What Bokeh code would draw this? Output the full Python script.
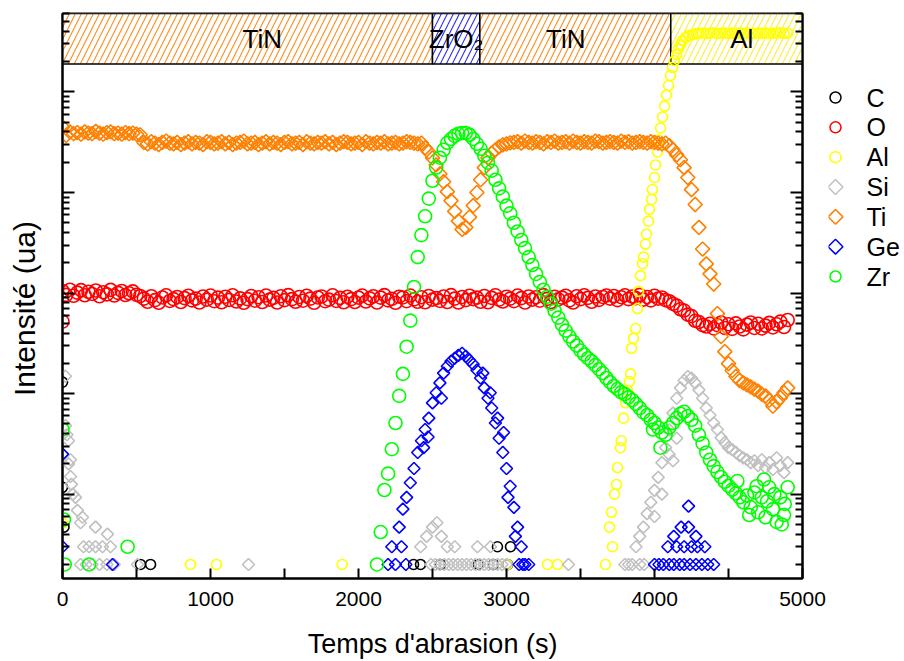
from bokeh.plotting import figure
from bokeh.models import Range1d, FixedTicker, LogAxis, ColumnDataSource
from bokeh.layouts import row
from bokeh.core.properties import value
from bokeh.embed import file_html
from bokeh.resources import INLINE

FONT = "Liberation Sans"

# ---------------- data ----------------
# common sampling grid (s) for Ti and O
t_grid = list(range(0, 4901, 25))

ti_v = [
    # 0 .. 525
    45000, 37000, 40000, 38500, 39500, 38000, 40000, 39000, 38500, 40500,
    39000, 38000, 39500, 40000, 38500, 39000, 38000, 39500, 38500, 39000,
    38000, 37500,
    # 550 .. 2400
    31500, 30500, 32000, 31000, 30000, 31500, 32500, 31000, 30500, 31500,
    30000, 31000, 32000, 30500, 31500, 31000, 30000, 32000, 31500, 30500,
    31000, 32000, 30500, 31500, 30000, 31000, 31500, 32500, 30500, 31000,
    31500, 30000, 31000, 32000, 30500, 31500, 31000, 30000, 31500, 32000,
    30500, 31000, 31500, 30000, 32000, 31000, 30500, 31500, 31000, 32000,
    30500, 31500, 30000, 31000, 32000, 31500, 30500, 31000, 31500, 30000,
    32000, 31000, 30500, 31500, 31000, 32000, 30500, 31000, 31500, 30500,
    31000, 32000, 31500, 31000, 30500,
    # 2425 .. 3025 (ZrO2 dip)
    31000, 27800, 25300, 22100, 18800, 15300, 12800, 10200, 8300, 6500,
    5200, 4300, 4500, 5700, 7400, 10000, 13400, 17700, 22100, 24700,
    26600, 28500, 29800, 30500, 31200,
    # 3050 .. 4050
    31500, 32000, 31000, 32500, 31500, 31000, 32000, 31500, 30500, 32000,
    31500, 32500, 31000, 31500, 32000, 31000, 32500, 31500, 31000, 32000,
    31500, 31000, 32500, 32000, 31000, 31500, 32000, 31500, 31000, 32500,
    31500, 32000, 31000, 31500, 32000, 31500, 31000, 32000, 31500, 31000,
    30500,
    # 4075 .. 4900
    31000, 29200, 26600, 23700, 21200, 17700, 14100, 10700, 7600, 4500,
    2740, 1950, 1550, 1230, 625, 370, 262, 199, 170, 148,
    135, 128, 122, 117, 111, 106, 99, 95, 86, 75,
    83, 91, 102, 114,
]

o_v = [
    # 0 .. 525
    1050, 960, 1080, 940, 1010, 1070, 950, 1030, 980, 1060,
    930, 1020, 970, 1075, 945, 1005, 1050, 955, 995, 1040,
    960, 935,
    # 550 .. 4075
    880, 820, 930, 850, 800, 905, 950, 835, 870, 915,
    815, 890, 940, 845, 880, 805, 925, 860, 945, 830,
    900, 810, 920, 855, 950, 825, 885, 800, 870, 935,
    840, 910, 815, 945, 860, 895, 805, 930, 850, 955,
    870, 820, 915, 840, 940, 880, 800, 905, 925, 830,
    860, 950, 835, 895, 810, 920, 870, 815, 900, 945,
    825, 885, 930, 805, 900, 955, 845, 875, 800, 920,
    905, 830, 945, 865, 820, 910, 810, 935, 860, 890,
    835, 925, 815, 955, 880, 805, 915, 850, 940, 870,
    900, 820, 935, 810, 895, 950, 860, 825, 920, 880,
    830, 945, 890, 805, 925, 860, 910, 840, 955, 875,
    815, 920, 865, 900, 940, 845, 805, 930, 870, 950,
    895, 820, 925, 855, 915, 945, 880, 935, 850, 910,
    950, 870, 925, 890, 960, 860, 915, 845, 940, 880,
    905, 850,
    # 4100 .. 4900
    830, 780, 750, 690, 670, 610, 590, 530, 515, 480,
    465, 495, 445, 480, 510, 450, 490, 440, 500, 465,
    435, 485, 510, 450, 495, 445, 475, 505, 455, 490,
    520, 460, 540,
]
o_extra_t = [0]
o_extra_v = [520]

# Zr
zr_grid = list(range(2125, 4901, 25))
zr_v = [
    2, 4.2, 11, 16, 28, 51, 95, 157, 293, 532,
    1150, 2280, 3770, 5800, 8700, 13100, 17700, 22200, 26600, 31200,
    34100, 36600, 38300, 39100, 39100, 37400, 34100, 30500, 27200, 23200,
    19800, 16500, 13400, 11000, 9100, 7400, 6200, 5000, 4100, 3370,
    2800, 2280, 1900, 1550, 1290, 1080, 920, 784, 667, 570,
    485, 423, 370, 330, 300, 268, 245, 225, 210, 192,
    175, 160, 143, 130, 119, 111, 103, 99, 92, 86,
    79, 72, 65, 61, 55, 51, 46, 41, 39, 46,
    51, 57, 63, 66, 60, 55, 48, 39, 32, 26,
    22, 19, 16.6, 14.8, 13.3, 12.1, 11.1, 10.2, 9.3, 8.3,
    9.7, 7.4, 10.4, 6.6, 9.3, 5.9, 11.7, 7.1, 5.3, 9.3,
    6.2, 11.7,
]
zr_other_t = [0, 10, 15, 180, 440,
              4040, 3990, 4690, 4760, 4810, 4880, 4860, 4640, 4560, 4740]
zr_other_v = [44, 5.6, 2, 2, 3,
              29, 44, 12, 8.5, 10, 8, 5, 6.2, 13.5, 14]

# Al
al_t = [0, 865, 1040, 1890, 3005, 3277, 3345,
        3669, 3696, 3709, 3716, 3730, 3743, 3750, 3770, 3775, 3791,
        3804, 3818, 3831, 3838, 3845, 3858, 3872, 3885, 3892, 3905,
        3919, 3926, 3939, 3946, 3959, 3966, 3980, 3986, 4000, 4007,
        4020, 4027, 4041, 4054, 4068, 4081, 4095, 4108, 4122, 4135,
        4149, 4162, 4176, 4189, 4209, 4230, 4257, 4284]
al_v = [5.2, 2, 2, 2, 2, 2, 2,
        2, 4.7, 6.6, 3, 10, 12.5, 18.4, 29, 34, 57,
        81, 107, 132, 157, 282, 354, 444, 700, 1040, 1490,
        1960, 2280, 3070, 3850, 5190, 6800, 8530, 10700, 14100, 18800,
        25300, 33300, 43800, 56300, 72300, 92800, 116000, 146000, 175000, 205000,
        235000, 270000, 296000, 324000, 347000, 363000, 372000, 380000]
al_flat_t = list(range(4300, 4901, 25))
al_flat_v = [383000, 386000, 381000, 385000, 388000, 382000, 384000, 387000,
             381000, 385000, 383000, 386000, 382000, 388000, 384000, 381000,
             386000, 383000, 387000, 382000, 385000, 384000, 388000, 383000,
             386000]

# Si
si_t = [20, 20, 30, 41, 41, 54, 54, 60, 70, 88, 101, 122, 135, 223, 304,
        142, 180, 223, 270, 324, 122, 160, 200, 250, 300, 350, 507, 1257,
        2420, 2460, 2500, 2530, 2560, 2600, 2650, 2804, 2892,
        2490, 2520, 2550, 2580, 2610, 2640, 2670, 2700, 2730, 2760, 2790,
        2820, 2850, 2880, 2910, 2940, 2970, 3000, 3419,
        4100, 4125, 4150, 3930, 3900, 4000, 4050]
si_v = [149, 48, 39, 34, 20, 22, 15, 12.5, 10, 9.3, 6.9, 5.2, 5.9, 4.7, 4.0,
        3, 3, 3, 3, 3, 2, 2, 2, 2, 2, 2, 2, 2,
        3, 3.8, 4.7, 5.2, 3.8, 3, 3, 3, 3,
        2, 2, 2, 2, 2, 2, 2, 2, 2, 2, 2,
        2, 2, 2, 2, 2, 2, 2, 2,
        24.8, 21.5, 36, 2, 2, 6, 10]
si_grid = list(range(3800, 4901, 25))
si_grid_v = [2, 2, 2, 3, 3.8, 4.7, 6.4, 8.3, 10.9, 14.7,
             20.6, 29, 43.6, 64, 90, 114, 135, 148, 143, 128,
             109, 90, 72, 61, 51, 44, 36.5, 32.6, 29, 27.7,
             26, 24.2, 23, 22, 20.6, 21.5, 19.3, 22, 18.4, 20.6,
             17.6, 23, 19.3, 16.4, 20.6]

# Ge
ge_grid = list(range(2200, 3151, 25))
ge_grid_v = [2, 3, 2, 4.7, 7.1, 9.3, 13, 18, 26, 34,
             44, 57, 81, 102, 128, 160, 187, 210, 225, 240,
             252, 235, 215, 196, 171, 143, 114, 90, 72, 51,
             36, 26, 18, 12, 7.4, 4.7, 3, 2, 2]
ge_t = [0, 0, 338,
        2290, 2320, 2440, 2470, 2560, 2840, 2890, 2940, 2980, 3010, 3060, 3085, 3110,
        4000, 4030, 4060, 4100, 4130, 4170, 4200, 4240, 4280, 4320, 4360, 4400,
        4090, 4150, 4200, 4250, 4290, 4340, 4130, 4180, 4230, 4280, 4230]
ge_v = [25, 3, 2,
        3, 2, 29, 37, 90, 160, 102, 57, 41, 9.3, 3.8, 2, 2,
        2, 2, 2, 2, 2, 2, 2, 2, 2, 2, 2, 2,
        3, 3, 3, 3, 3, 3, 3.8, 4.7, 4.7, 3.8, 7.6]

# C
c_t = [0, 0, 10, 527, 595, 2372, 2419, 2554, 2811, 2912, 3007, 2939, 3027]
c_v = [130, 11.7, 4.7, 2, 2, 2, 2, 2, 2, 2, 2, 3, 3]

# layer band (top strip)
layer_names = ["TiN", "ZrO\u2082", "TiN", "Al"]
layer_start = [0, 2500, 2820, 4110]
layer_end = [2500, 2820, 4110, 5000]
layer_label_x = [1350, 2660, 3400, 4590]
band_bottom = 1.9e5
band_top = 6.03e5

x_ticks = [0, 1000, 2000, 3000, 4000, 5000]
x_minor = [500, 1500, 2500, 3500, 4500]
y_major = [10.0 ** k for k in range(0, 7)]
y_minor = [m * 10.0 ** k for k in range(0, 6) for m in range(2, 10)]

# legend entries
leg_labels = ["C", "O", "Al", "Si", "Ti", "Ge", "Zr"]
leg_colors = ["#000000", "#FF0000", "#FFFF00", "#C0C0C0", "#FF8000", "#0000FF", "#00FF00"]

# ---------------- main figure ----------------
p = figure(width=828, height=661, y_axis_type="log",
           x_range=Range1d(0, 5000), y_range=Range1d(1.45, band_top),
           output_backend="svg", toolbar_location=None,
           min_border_left=62, min_border_right=26,
           min_border_top=13, min_border_bottom=79)
p.xgrid.visible = False
p.ygrid.visible = False
p.outline_line_color = "black"
p.outline_line_width = 2
p.background_fill_color = "white"

# band
band_src = ColumnDataSource(dict(
    left=layer_start, right=layer_end,
    bottom=[band_bottom] * len(layer_start), top=[band_top] * len(layer_start),
    hc=["#FF8C1A", "#2B2BFF", "#FF8C1A", "#FFEE33"]))
p.quad(left="left", right="right", bottom="bottom", top="top", source=band_src,
       fill_color="white", line_color="black", line_width=1.5,
       hatch_pattern="/", hatch_color="hc", hatch_scale=12, hatch_weight=1.1)

LW = 1.6
DIAM = 0.785398
p.scatter(c_t, c_v, marker="circle", size=10, fill_color=None,
          line_color=leg_colors[0], line_width=LW)
p.scatter(t_grid + o_extra_t, o_v + o_extra_v, marker="circle", size=13,
          fill_color=None, line_color=leg_colors[1], line_width=LW)
p.scatter(al_t + al_flat_t, al_v + al_flat_v, marker="circle", size=10,
          fill_color=None, line_color=leg_colors[2], line_width=LW)
p.scatter(si_t + si_grid, si_v + si_grid_v, marker="square", angle=DIAM,
          size=8.5, fill_color=None, line_color=leg_colors[3], line_width=LW)
p.scatter(t_grid, ti_v, marker="square", angle=DIAM, size=10,
          fill_color=None, line_color=leg_colors[4], line_width=LW)
p.scatter(ge_t + ge_grid, ge_v + ge_grid_v, marker="square", angle=DIAM,
          size=8.5, fill_color=None, line_color=leg_colors[5], line_width=LW)
p.scatter(zr_other_t + zr_grid, zr_other_v + zr_v, marker="circle", size=13,
          fill_color=None, line_color=leg_colors[6], line_width=LW)

# layer names on top of the data
p.text(x=layer_label_x, y=[3.4e5] * len(layer_names), text=layer_names,
       text_align="center", text_baseline="middle",
       text_font=value(FONT), text_font_size="26px", text_color="black")

# axes
xa = p.xaxis[0]
xa.ticker = FixedTicker(ticks=x_ticks, minor_ticks=x_minor)
ya = p.yaxis[0]
ya.ticker = FixedTicker(ticks=y_major, minor_ticks=y_minor)
ra = LogAxis(ticker=FixedTicker(ticks=y_major, minor_ticks=y_minor))
p.add_layout(ra, "right")

for ax in (xa, ya, ra):
    ax.axis_line_width = 2
    ax.axis_line_color = "black"
    ax.major_tick_line_color = "black"
    ax.minor_tick_line_color = "black"
    ax.major_tick_line_width = 2
    ax.minor_tick_line_width = 2
    ax.major_tick_out = 0
    ax.minor_tick_out = 0
    ax.major_label_text_color = "black"
    ax.major_label_text_font = FONT
    ax.axis_label_text_font = FONT
    ax.axis_label_text_font_style = "normal"
    ax.axis_label_text_color = "black"

xa.major_tick_in = 10
xa.minor_tick_in = 10
xa.major_label_text_font_size = "21px"
xa.major_label_standoff = 13
xa.axis_label = "Temps d'abrasion (s)"
xa.axis_label_text_font_size = "27px"
xa.axis_label_standoff = 20

for ax in (ya, ra):
    ax.major_tick_in = 12
    ax.minor_tick_in = 7
    ax.major_label_text_font_size = "1px"
    ax.major_label_text_alpha = 0
    ax.major_label_standoff = 0

# trailing no-break spaces shift the visible title slightly downwards, as in the original
ya.axis_label = "Intensité (ua)\u00a0\u00a0\u00a0"
ya.axis_label_text_font_size = "30px"
ya.axis_label_standoff = 22

# ---------------- legend panel (separate figure, pixel coordinates) ----------------
leg = figure(width=76, height=661, x_range=Range1d(828, 904), y_range=Range1d(661, 0),
             output_backend="svg", toolbar_location=None, min_border=0,
             x_axis_location=None, y_axis_location=None, outline_line_color=None)
leg.xgrid.visible = False
leg.ygrid.visible = False
rows_y = [98.3 + 34.9 * i for i in range(len(leg_labels))]
leg.scatter(x=[835] * len(leg_labels), y=rows_y,
            marker=["circle", "circle", "circle", "square", "square", "square", "circle"],
            angle=[0, 0, 0, DIAM, DIAM, DIAM, 0],
            size=[11, 11, 11, 10.5, 10.5, 10.5, 11],
            fill_color=None, line_color=leg_colors, line_width=1.5)
leg.text(x=[866] * len(leg_labels), y=rows_y, text=leg_labels,
         text_align="left", text_baseline="middle",
         text_font=value(FONT), text_font_size="25px", text_color="black")

layout = row(p, leg, spacing=0)
open("out.html", "w").write(file_html(layout, INLINE))
